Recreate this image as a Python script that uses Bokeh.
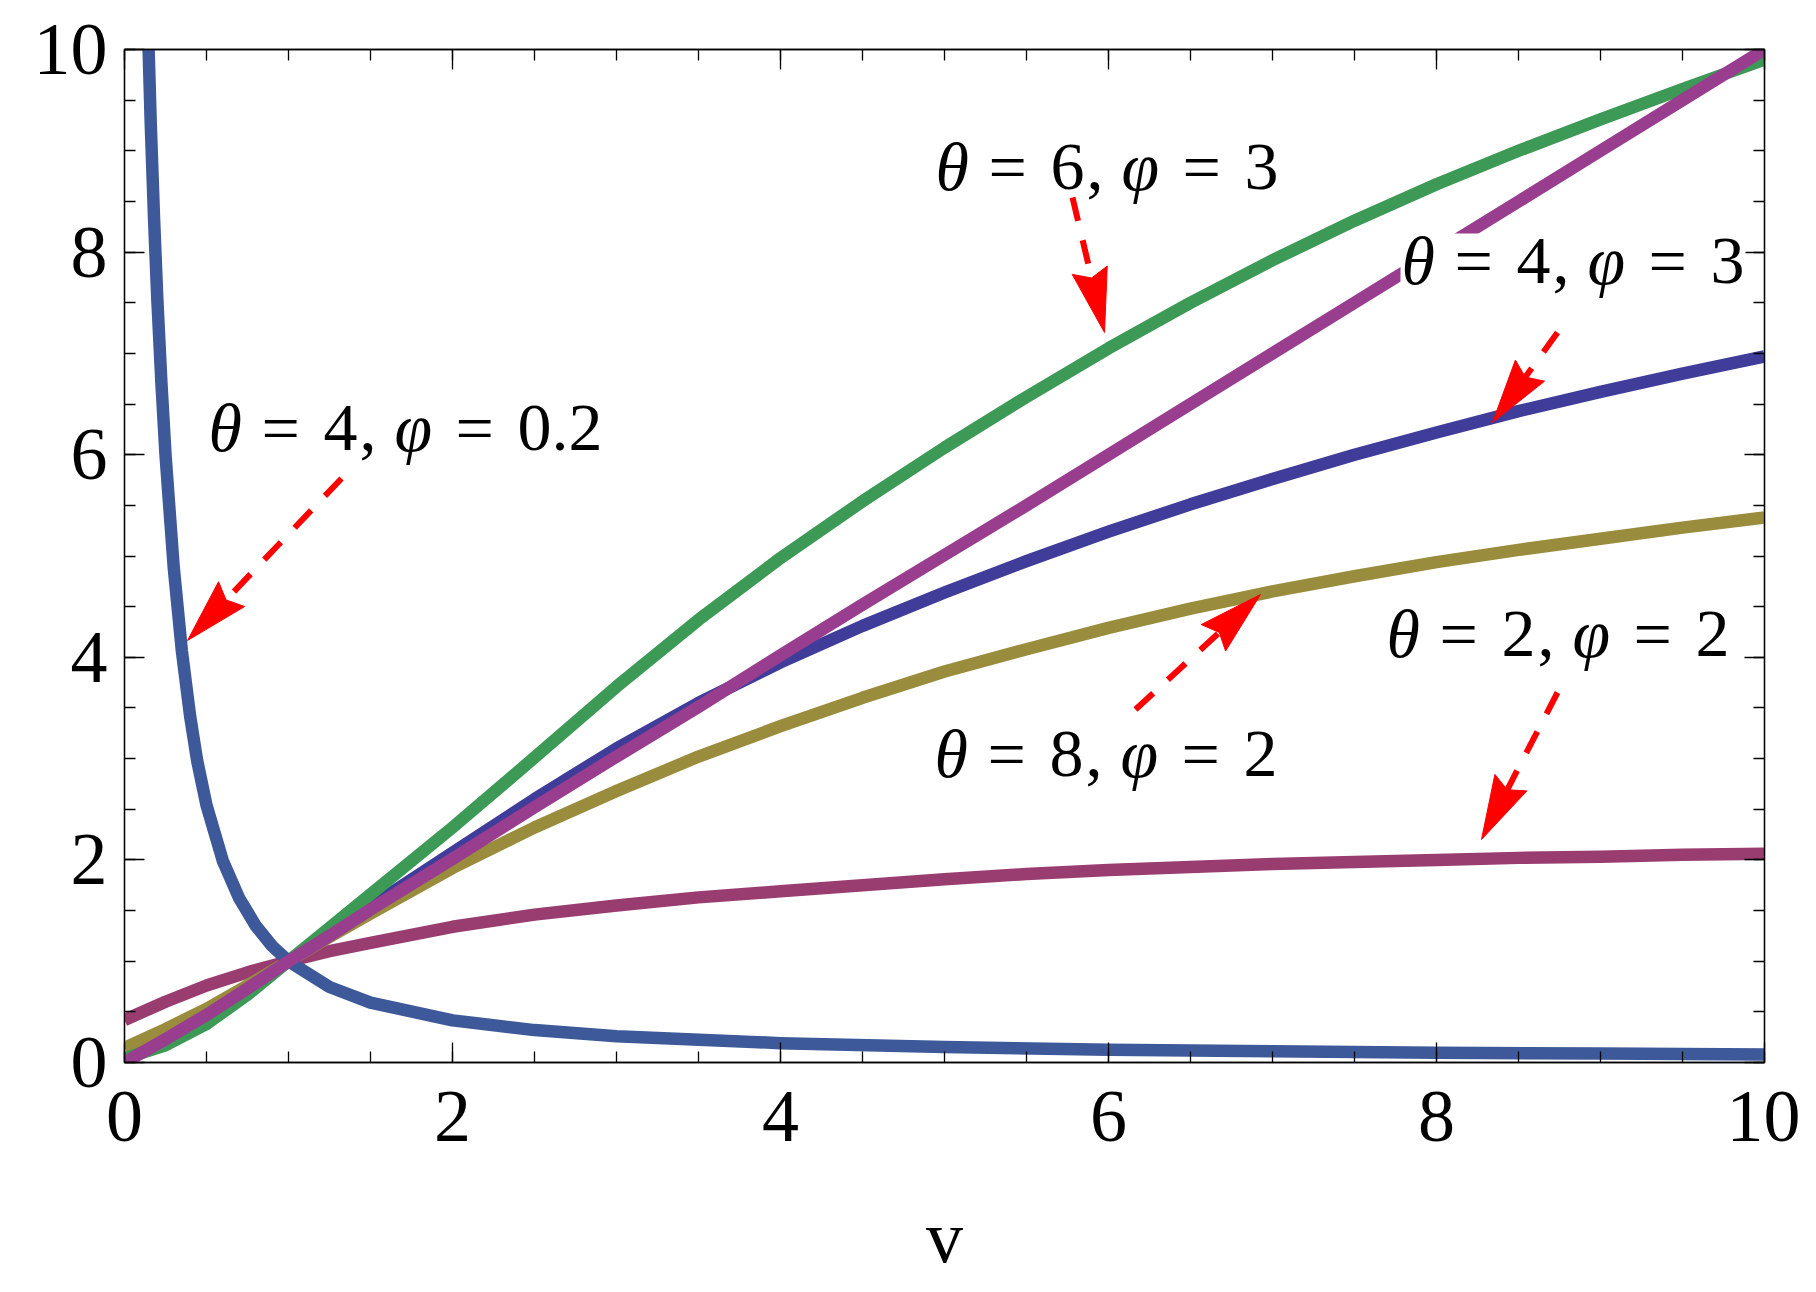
import math
from bokeh.plotting import figure
from bokeh.models import (Range1d, LinearAxis, SingleIntervalTicker, Label,
                          BoxAnnotation, CustomJSTickFormatter)
from bokeh.embed import file_html
from bokeh.resources import INLINE

# ---------------- data ----------------
v = [0, 0.25, 0.5, 0.75, 1, 1.25, 1.5, 2, 2.5, 3, 3.5, 4, 4.5, 5, 5.5,
     6, 6.5, 7, 7.5, 8, 8.5, 9, 9.5, 10]

theta4_phi3 = [0.03, 0.2, 0.45, 0.72, 1.0, 1.27, 1.54, 2.07, 2.6, 3.1, 3.55,
               3.95, 4.31, 4.64, 4.95, 5.24, 5.51, 5.76, 6.0, 6.22, 6.43,
               6.62, 6.8, 6.97]
theta2_phi2 = [0.42, 0.6, 0.76, 0.89, 1.0, 1.1, 1.18, 1.34, 1.46, 1.55, 1.63,
               1.69, 1.75, 1.81, 1.86, 1.9, 1.93, 1.96, 1.98, 2.0, 2.02, 2.03,
               2.05, 2.06]
theta8_phi2 = [0.145, 0.33, 0.53, 0.76, 1.0, 1.24, 1.47, 1.92, 2.32, 2.68,
               3.02, 3.32, 3.6, 3.86, 4.08, 4.29, 4.48, 4.65, 4.8, 4.94,
               5.06, 5.17, 5.28, 5.38]
theta6_phi3 = [0.04, 0.17, 0.38, 0.67, 1.0, 1.33, 1.66, 2.32, 3.01, 3.71,
               4.37, 4.98, 5.54, 6.07, 6.57, 7.05, 7.5, 7.92, 8.31, 8.67,
               9.0, 9.31, 9.61, 9.9]
reference = [0.0, 0.23, 0.47, 0.73, 1.0, 1.25, 1.51, 2.01, 2.52, 3.02, 3.51,
             4.02, 4.52, 5.01, 5.5, 6.0, 6.5, 7.0, 7.5, 8.0, 8.5, 9.0, 9.5,
             10.0]

v_low = [0.14, 0.146, 0.16, 0.18, 0.2, 0.225, 0.25, 0.3, 0.35, 0.4, 0.443,
         0.5, 0.6, 0.7, 0.8, 0.9, 1.0, 1.25, 1.5, 2, 2.5, 3, 4, 5, 6, 7, 8,
         9, 10]
theta4_phi02 = [10.41, 10.06, 9.27, 8.34, 7.54, 6.71, 6.0, 4.89, 4.06, 3.42,
                2.98, 2.54, 1.99, 1.62, 1.35, 1.15, 1.0, 0.745, 0.591, 0.416,
                0.32, 0.26, 0.191, 0.152, 0.127, 0.11, 0.097, 0.088, 0.08]

# annotation labels: (theta, phi)
labels = [("6", "3"), ("4", "3"), ("4", "0.2"), ("8", "2"), ("2", "2")]

# ---------------- layout helpers ----------------
FL, FT, FW, FH = 124, 49, 1640, 1013      # frame in page pixels


def dx(px):
    return (px - FL) / FW * 10


def dy(py):
    return (FT + FH - py) / FH * 10


p = figure(frame_width=FW, frame_height=FH,
           x_range=Range1d(0, 10), y_range=Range1d(0, 10),
           output_backend="svg", toolbar_location=None,
           min_border_left=FL, min_border_right=36,
           min_border_top=FT, min_border_bottom=225,
           x_axis_label="v")
p.background_fill_color = "white"
p.border_fill_color = "white"
p.outline_line_color = "black"
p.outline_line_width = 1.3
p.xgrid.visible = False
p.ygrid.visible = False

FONT = "Liberation Serif"


def style_axis(ax):
    ax.ticker = SingleIntervalTicker(interval=2, num_minor_ticks=4)
    ax.major_tick_in = 20
    ax.major_tick_out = 0
    ax.minor_tick_in = 11
    ax.minor_tick_out = 0
    ax.axis_line_color = "black"
    ax.axis_line_width = 1.3
    ax.major_tick_line_color = "black"
    ax.minor_tick_line_color = "black"
    ax.major_tick_line_width = 1.3
    ax.minor_tick_line_width = 1.3
    ax.major_label_text_font = FONT
    ax.major_label_text_font_size = "74px"
    ax.major_label_text_color = "black"


for ax in p.xaxis:
    style_axis(ax)
    ax.major_label_standoff = 29
    ax.axis_label_text_font = FONT
    ax.axis_label_text_font_size = "74px"
    ax.axis_label_text_font_style = "normal"
    ax.axis_label_text_color = "black"
    ax.axis_label_standoff = 52
for ax in p.yaxis:
    style_axis(ax)
    ax.major_label_standoff = 17

for side in ("above", "right"):
    ax = LinearAxis(formatter=CustomJSTickFormatter(code="return ''"))
    style_axis(ax)
    ax.major_label_standoff = 0
    ax.major_label_text_font_size = "1px"
    p.add_layout(ax, side)

# ---------------- curves ----------------
series = [
    (v, theta4_phi3, "#3F3D99"),
    (v, theta2_phi2, "#993D71"),
    (v, theta8_phi2, "#998C3D"),
    (v, theta6_phi3, "#3D9956"),
    (v_low, theta4_phi02, "#3D5999"),
    (v, reference, "#993D8F"),
]
for xs, ys, c in series:
    p.line(xs, ys, line_color=c, line_width=12.5, line_join="round")

# ---------------- arrows ----------------
arrows = [((1072, 197), (1104, 332)),
          ((1557, 332), (1492, 422)),
          ((341, 478), (187, 640)),
          ((1135, 709), (1260, 594)),
          ((1557, 692), (1481, 839))]
HL, HW, HN = 64, 36, 8
for (sx, sy), (tx, ty) in arrows:
    d = math.hypot(tx - sx, ty - sy)
    ux, uy = (tx - sx) / d, (ty - sy) / d
    nx, ny = -uy, ux
    bx, by = tx - HL * ux, ty - HL * uy
    qx, qy = tx - (HL - HN) * ux, ty - (HL - HN) * uy
    p.segment(x0=dx(sx), y0=dy(sy), x1=dx(qx), y1=dy(qy),
              line_color="#FF0000", line_width=6, line_dash="24 20")
    pts = [(tx, ty), (bx + HW / 2 * nx, by + HW / 2 * ny), (qx, qy),
           (bx - HW / 2 * nx, by - HW / 2 * ny)]
    p.patch([dx(a) for a, b in pts], [dy(b) for a, b in pts],
            fill_color="#FF0000", line_color="#FF0000", line_width=1)

# white box behind the "θ = 4, φ = 3" label
p.add_layout(BoxAnnotation(left=dx(1400), right=dx(1745), top=dy(233),
                           bottom=dy(302), fill_color="white", fill_alpha=1.0,
                           line_color=None, level="annotation"))

# ---------------- annotation texts ----------------
positions = [(937, 166), (1403, 260), (210, 427), (936, 753), (1388, 633)]
offsets = [0, 53, 115, 151, 186, 247, 309]
for (th, ph), (x0, base) in zip(labels, positions):
    toks = [("θ", True), ("=", False), (th, False), (",", False),
            ("φ", True), ("=", False), (ph, False)]
    for (t, it), off in zip(toks, offsets):
        p.add_layout(Label(x=dx(x0 + off - 2), y=dy(base), text=t,
                           text_font=FONT, text_font_size="68px",
                           text_font_style="italic" if it else "normal",
                           text_baseline="alphabetic", text_align="left",
                           text_color="black"))

open("out.html", "w").write(file_html(p, INLINE))
